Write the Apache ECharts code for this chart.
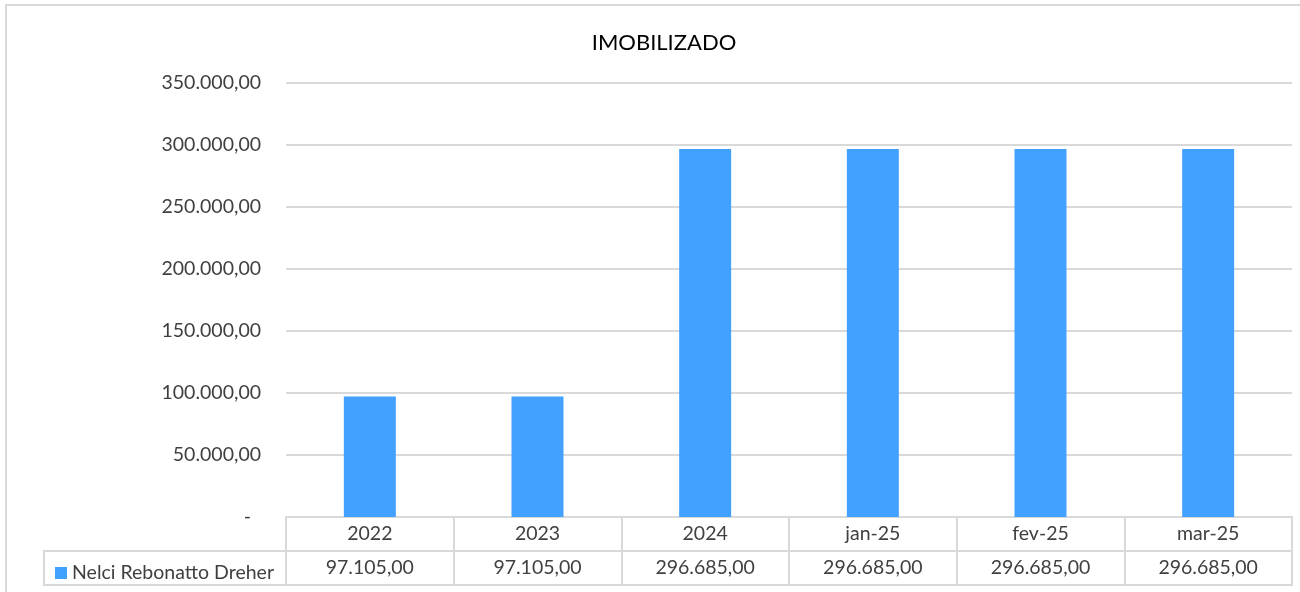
<!DOCTYPE html>
<html>
<head>
<meta charset="utf-8">
<script src="https://cdn.jsdelivr.net/npm/echarts@6/dist/echarts.min.js"></script>
<style>
  html, body { margin: 0; padding: 0; background: #fff; }
  #chart { width: 1300px; height: 592px; }
</style>
</head>
<body>
<div id="chart"></div>
<script>
// dados
const categorias = ["2022", "2023", "2024", "jan-25", "fev-25", "mar-25"];
const valores = [97105, 97105, 296685, 296685, 296685, 296685];
const serieNome = "Nelci Rebonatto Dreher";
const yMax = 350000;
const yPasso = 50000;

const fonte = "Lato";
const tam = 19.5;
const corTexto = "#404040";
const corLinha = "#d9d9d9";

// formato brasileiro 1.234,56
function fmt(v) {
    let partes = v.toFixed(2).split(".");
    let inteiro = partes[0].replace(/\B(?=(\d{3})+(?!\d))/g, ".");
    return inteiro + "," + partes[1];
}

let chart = echarts.init(document.getElementById("chart"));
let option = {
    animation: false,
    textStyle: { fontFamily: fonte },
    title: {
        text: "IMOBILIZADO",
        left: 659,
        textAlign: "center",
        top: 27,
        textStyle: { fontFamily: fonte, fontSize: 22, fontWeight: "normal", color: "#000" }
    },
    legend: {
        left: 50,
        top: 558,
        icon: "rect",
        itemWidth: 12,
        itemHeight: 12,
        itemGap: 6,
        textStyle: { fontFamily: fonte, fontSize: tam, color: corTexto },
        data: [serieNome]
    },
    grid: { left: 286, right: 8, top: 83, bottom: 75, containLabel: false },
    xAxis: [
        {
            type: "category",
            data: categorias,
            position: "bottom",
            axisLine: { show: true, lineStyle: { color: corLinha, width: 2 } },
            axisTick: { show: true, length: 68, lineStyle: { color: corLinha, width: 2 } },
            axisLabel: { margin: 7, fontSize: tam, color: corTexto, fontFamily: fonte }
        },
        {
            type: "category",
            data: valores.map(fmt),
            position: "bottom",
            offset: 34,
            axisLine: { show: true, lineStyle: { color: corLinha, width: 2 } },
            axisTick: { show: false },
            axisLabel: { margin: 7, fontSize: tam, color: corTexto, fontFamily: fonte }
        },
        {
            type: "category",
            data: categorias,
            position: "bottom",
            offset: 68,
            axisLine: { show: true, lineStyle: { color: corLinha, width: 2 } },
            axisTick: { show: false },
            axisLabel: { show: false }
        }
    ],
    yAxis: {
        type: "value",
        min: 0,
        max: yMax,
        interval: yPasso,
        axisLine: { show: false },
        axisTick: { show: false },
        splitLine: { lineStyle: { color: corLinha, width: 2 } },
        axisLabel: {
            margin: 25,
            fontSize: tam,
            color: corTexto,
            fontFamily: fonte,
            formatter: v => v === 0 ? "-  " : fmt(v)
        }
    },
    graphic: [
        {
            type: "rect",
            shape: { x: 6, y: 5, width: 1400, height: 700 },
            style: { fill: null, stroke: corLinha, lineWidth: 2 },
            silent: true
        },
        {
            type: "polyline",
            shape: { points: [[286, 551], [44, 551], [44, 585], [286, 585]] },
            style: { fill: null, stroke: corLinha, lineWidth: 2 },
            silent: true
        }
    ],
    series: [
        {
            name: serieNome,
            type: "bar",
            data: valores,
            barWidth: "31%",
            itemStyle: { color: "#42a0ff" }
        }
    ]
};
chart.setOption(option);
</script>
</body>
</html>
